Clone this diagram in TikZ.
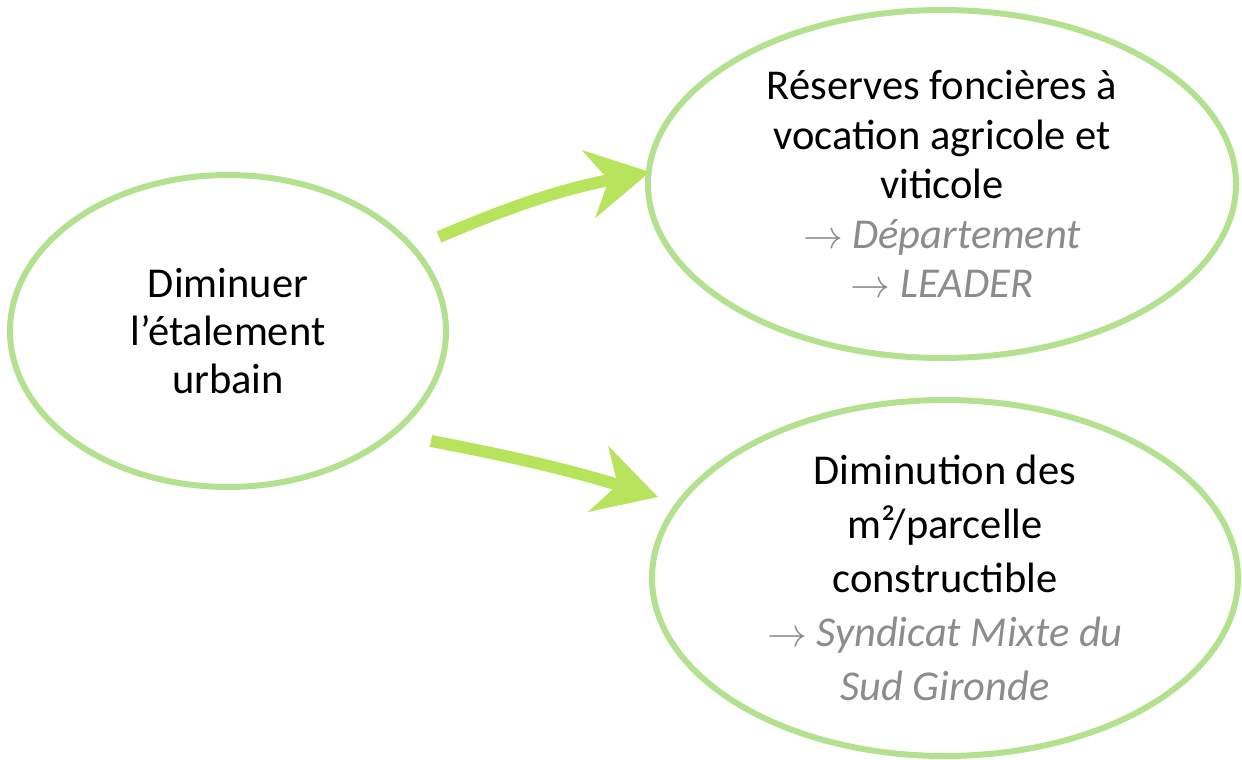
\documentclass[tikz,border=0pt]{standalone}
\usepackage{fontspec}
\setmainfont{Carlito}
\usetikzlibrary{positioning,shapes.geometric,arrows.meta}
\definecolor{bubble}{HTML}{B4E190}
\definecolor{brush}{HTML}{B7E45C}
\definecolor{source}{HTML}{8C8C8C}
\newcommand{\fl}{\scalebox{1.6}{$\rightarrow$}}

\begin{document}
\begin{tikzpicture}[x=1pt,y=-1pt,on grid,
		bulle/.style={ellipse,draw=bubble,line width=6pt,inner sep=0pt,align=center},
		fleche/.style={draw=brush,line width=12pt,-{Stealth[length=62pt,width=68pt,inset=20pt,fill=brush]}}]
			\useasboundingbox[fill=white] (0,0) rectangle (1242,760);
			\node[bulle, minimum width=436pt, minimum height=312pt, font=\fontsize{42.5}{48}\selectfont] (dim) at (228,331) {Diminuer\\l’étalement\\urbain};
			\node[bulle, minimum width=588pt, minimum height=348pt, font=\fontsize{42.5}{49.5}\selectfont] (res) [above right=147pt and 714pt of dim]
				{Réserves foncières à\\vocation agricole et\\viticole\\{\color{source}\itshape \fl{} Département}\\{\color{source}\itshape \fl{} LEADER}};
			\node[bulle, minimum width=586pt, minimum height=356pt, font=\fontsize{42.5}{54}\selectfont] (parc) [below right=247pt and 717pt of dim]
				{Diminution des\\m²/parcelle\\constructible\\{\color{source}\itshape \fl{} Syndicat Mixte du}\\{\color{source}\itshape Sud Gironde}};
			\coordinate (f1a) at (439,237);
			\coordinate (f1b) at (650,172);
			\coordinate (f2a) at (431,441);
			\coordinate (f2b) at (658,497);
			\path
			(f1a) edge [fleche, bend left=6] (f1b)
			(f2a) edge [fleche, bend left=3] (f2b);
		\end{tikzpicture}
\end{document}
